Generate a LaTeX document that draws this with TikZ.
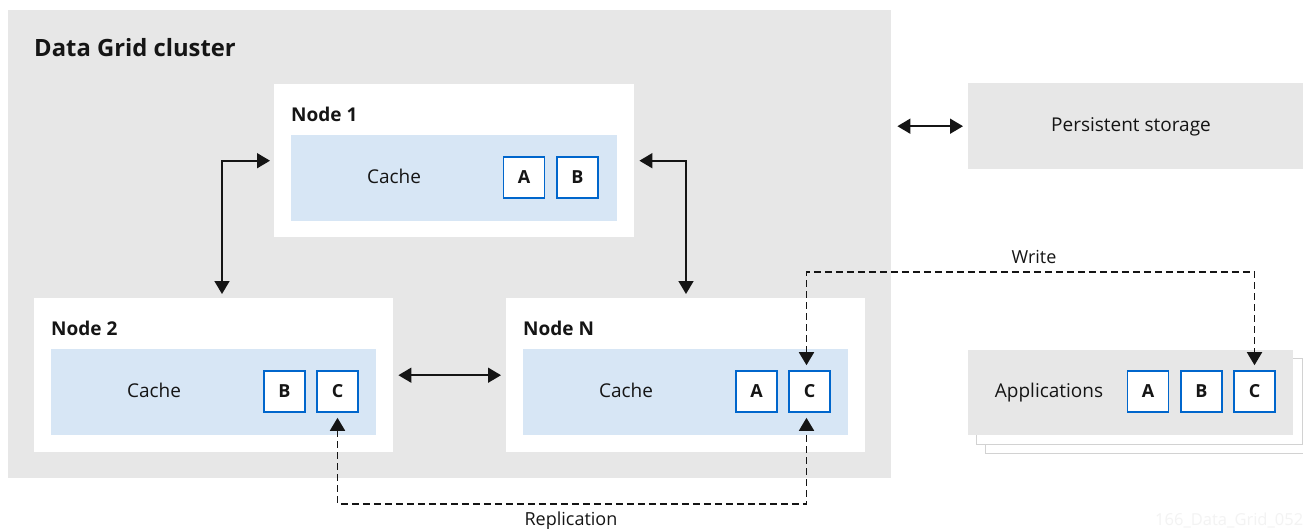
\documentclass[tikz,border=0pt]{standalone}
\usepackage{fontspec}
\setmainfont{Open Sans}
\usetikzlibrary{arrows.meta}
\definecolor{clgray}{HTML}{E7E7E7}
\definecolor{cacheblue}{HTML}{D7E6F5}
\definecolor{rhblue}{HTML}{0066CC}
\definecolor{ink}{HTML}{151515}
\definecolor{stackgray}{HTML}{D2D2D2}
\definecolor{wmark}{HTML}{F3F3F3}
\tikzset{
  panel/.style={anchor=north west, inner sep=0pt, draw=none},
  graybox/.style={panel, fill=clgray},
  whitebox/.style={panel, fill=white},
  cachebox/.style={panel, fill=cacheblue},
  letter/.style={draw=rhblue, line width=1.6pt, fill=white, inner sep=0pt,
    minimum width=41pt, minimum height=41pt, text=ink,
    font=\bfseries\fontsize{18}{18}\selectfont},
  lbl/.style={text=ink, inner sep=0pt, text height=13.6pt, text depth=0pt,
    font=\fontsize{19}{19}\selectfont},
  slbl/.style={text=ink, inner sep=0pt, text height=12.9pt, text depth=0pt,
    font=\fontsize{18}{18}\selectfont},
  blbl/.style={text=ink, inner sep=0pt, anchor=base west, font=\bfseries\fontsize{19}{19}\selectfont},
  biarr/.style={{Triangle[length=13pt,width=15pt]}-{Triangle[length=13pt,width=15pt]}, line width=1.6pt, draw=ink},
  dbiarr/.style={biarr, line width=1.8pt, dash pattern=on 7pt off 4pt},
}
\begin{document}
\begin{tikzpicture}[x=1pt,y=-1pt]
\useasboundingbox (0,0) rectangle (1303,528);
\fill[white] (0,0) rectangle (1303,528);

% cluster
\node[graybox, minimum width=883pt, minimum height=468pt] (cluster) at (8,10) {};
\node[text=ink, inner sep=0pt, anchor=base west, font=\bfseries\fontsize{23.8}{24}\selectfont] (title) at (34,56) {Data Grid cluster};

% Node 1
\node[whitebox, minimum width=360pt, minimum height=153pt] (n1) at (274,84) {};
\node[blbl] (n1t) at (291,121) {Node 1};
\node[cachebox, minimum width=326pt, minimum height=86pt] (n1c) at (291,135) {};
\node[lbl] (n1ct) at (394,177) {Cache};
\node[letter] (n1a) at (524,177.5) {A};
\node[letter] (n1b) at (577.5,177.5) {B};

% Node 2
\node[whitebox, minimum width=359pt, minimum height=154pt] (n2) at (34,298) {};
\node[blbl] (n2t) at (51,335) {Node 2};
\node[cachebox, minimum width=325pt, minimum height=86pt] (n2c) at (51,349) {};
\node[lbl] (n2ct) at (154,391) {Cache};
\node[letter] (n2b) at (284.5,391.5) {B};
\node[letter] (n2cc) at (337.5,391.5) {C};

% Node N
\node[whitebox, minimum width=359pt, minimum height=154pt] (nN) at (506,298) {};
\node[blbl] (nNt) at (523,335) {Node N};
\node[cachebox, minimum width=325pt, minimum height=86pt] (nNc) at (523,349) {};
\node[lbl] (nNct) at (626,391) {Cache};
\node[letter] (nNa) at (756.5,391.5) {A};
\node[letter] (nNcc) at (809.5,391.5) {C};

% Persistent storage
\node[graybox, minimum width=336pt, minimum height=86pt] (store) at (968,83) {};
\node[lbl] (storet) at (1131,125) {Persistent storage};

% Applications stack
\draw[stackgray, line width=1pt, fill=white] (985,367) rectangle (1312,453);
\draw[stackgray, line width=1pt, fill=white] (976,358) rectangle (1302,444);
\node[graybox, minimum width=325pt, minimum height=85pt] (apps) at (968,350) {};
\node[lbl] (appst) at (1049,391) {Applications};
\node[letter] (apa) at (1148,391.5) {A};
\node[letter] (apb) at (1201.5,391.5) {B};
\node[letter] (apc) at (1254.5,391.5) {C};

% watermark
\node[text=wmark, inner sep=0pt, anchor=base west, font=\fontsize{16.5}{17}\selectfont] (wm) at (1155,525) {166\_Data\_Grid\_052};

% solid connectors
\draw[biarr] ([xshift=188pt,yshift=4pt]n2.north west) |- ([xshift=-4pt]n1.west);
\draw[biarr] ([xshift=5pt]n1.east) -| ([xshift=180pt,yshift=4pt]nN.north west);
\draw[biarr] ([xshift=5pt]n2.east) -- ([xshift=-5pt]nN.west);
\draw[biarr] (cluster.east |- store.west) ++(6pt,0) -- ([xshift=-5pt]store.west);

% dashed connectors
\coordinate (wy) at (0,272);
\coordinate (ry) at (0,504);
\draw[dbiarr] ([xshift=-3pt,yshift=5pt]nNcc.north) |- (apc.north |- wy) -- ([yshift=5pt]apc.north);
\node[slbl] (wl) at (1034,257) {Write};
\draw[dbiarr] ([yshift=-5pt]n2cc.south) |- ([xshift=-3pt]nNcc.south |- ry) -- ([xshift=-3pt,yshift=-5pt]nNcc.south);
\node[slbl] (rl) at (571,519) {Replication};
\end{tikzpicture}
\end{document}
